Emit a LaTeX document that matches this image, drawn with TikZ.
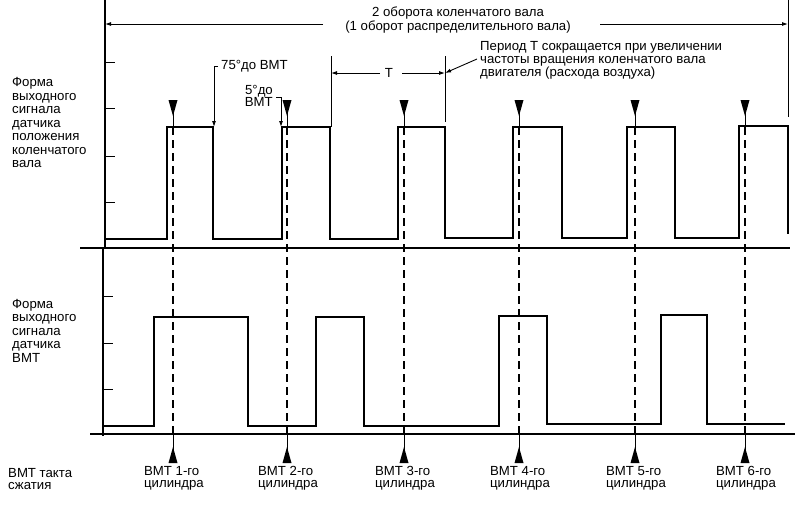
\documentclass[tikz,border=0pt]{standalone}
\usepackage{fontspec}
\setmainfont{Liberation Sans}
\usetikzlibrary{arrows.meta}
\begin{document}
\begin{tikzpicture}[x=1pt,y=-1pt,
  lbl/.style={font=\fontsize{13.2}{13.5}\selectfont, inner sep=0pt, align=left},
  axisline/.style={line width=1.3pt},
  sig/.style={line width=1.8pt, line join=miter},
  dashln/.style={line width=1.1pt, dash pattern=on 8pt off 5pt},
  thin/.style={line width=0.9pt},
  arr/.style={thin, -{Latex[length=6pt,width=4pt]}},
  tri/.style={fill=black}
]
\useasboundingbox (0,0) rectangle (808,512);
\fill[white] (0,0) rectangle (808,512);
% axes
\draw[axisline] (105,0) -- (105,249);
\draw[axisline] (103,249) -- (103,436);
\foreach \y in {62,108,156,202} \draw[thin] (105,\y) -- (115,\y);
\foreach \y in {296,343,389} \draw[thin] (103,\y) -- (113,\y);
\draw[axisline] (80,248) -- (790,248);
\draw[axisline] (90,434) -- (795,434);
% crankshaft signal
\draw[sig] (105,239) -- (167,239) -- (167,127) -- (213,127) -- (213,239) -- (282,239) -- (282,127) -- (330,127) -- (330,239) -- (398,239) -- (398,127) -- (445,127) -- (445,238) -- (513,238) -- (513,127) -- (562,127) -- (562,238) -- (627,238) -- (627,127) -- (675,127) -- (675,238) -- (739,238) -- (739,126) -- (788,126) -- (788,234);
% TDC signal
\draw[sig] (103,426) -- (154,426) -- (154,317) -- (248,317) -- (248,426) -- (316,426) -- (316,317) -- (364,317) -- (364,426) -- (499,426) -- (499,316) -- (547,316) -- (547,424) -- (661,424) -- (661,315) -- (707,315) -- (707,424) -- (785,424);
% markers
\foreach \x/\n in {173/1,287/2,404/3,519/4,635/5,745/6}{
  \draw[dashln] (\x,127) -- (\x,434);
  \draw[thin] (\x,113) -- (\x,127);
  \draw[thin] (\x,434) -- (\x,450);
  \fill[tri] (\x-4.5,100) -- (\x+4.5,100) -- (\x,116) -- cycle;
  \fill[tri] (\x,447) -- (\x-4.5,463) -- (\x+4.5,463) -- cycle;
  \node[lbl, anchor=north, font=\fontsize{13.2}{12.5}\selectfont] (cyl\n) at (\x+1,466) {ВМТ \n-го\\цилиндра};
}
% left labels
\node[lbl, anchor=west] (lab1) at (12,122.5) {Форма\\выходного\\сигнала\\датчика\\положения\\коленчатого\\вала};
\node[lbl, anchor=west] (lab2) at (12,330.5) {Форма\\выходного\\сигнала\\датчика\\ВМТ};
\node[lbl, anchor=west, font=\fontsize{13.2}{12.5}\selectfont] (lab3) at (8,479) {ВМТ такта\\сжатия};
% two revolutions
\node[lbl, align=center, font=\fontsize{13.2}{12}\selectfont] (rev) at (458,20) {2 оборота коленчатого вала\\(1 оборот распределительного вала)};
\coordinate (revL) at (105,24);
\coordinate (revR) at (788,24);
\draw[arr] (323,24) -- (revL);
\draw[arr] (600,24) -- (revR);
\draw[thin] (788,0) -- (788,117);
% period T
\node[lbl] (T) at (389,73) {Т};
\coordinate (TL) at (331,73);
\coordinate (TR) at (445,73);
\draw[thin] (331,56) -- (331,127);
\draw[thin] (445,56) -- (445,122);
\draw[arr] (380,73) -- (TL);
\draw[arr] (402,73) -- (TR);
\node[lbl, anchor=west, font=\fontsize{13.2}{13}\selectfont] (note) at (480,60) {Период Т сокращается при увеличении\\частоты вращения коленчатого вала\\двигателя (расхода воздуха)};
\draw[arr] (477,59) -- (TR);
% angle labels
\node[lbl, anchor=west] (a75) at (221,66) {75°до ВМТ};
\coordinate (a75t) at (214,127);
\draw[arr] (218,66) -- (214,66) -- (a75t);
\node[lbl, anchor=east, align=right, font=\fontsize{13.2}{12.5}\selectfont] (a5) at (273,96) {5°до\\ВМТ};
\coordinate (a5t) at (281,127);
\draw[arr] (276,97) -- (281,97) -- (a5t);
\end{tikzpicture}
\end{document}
